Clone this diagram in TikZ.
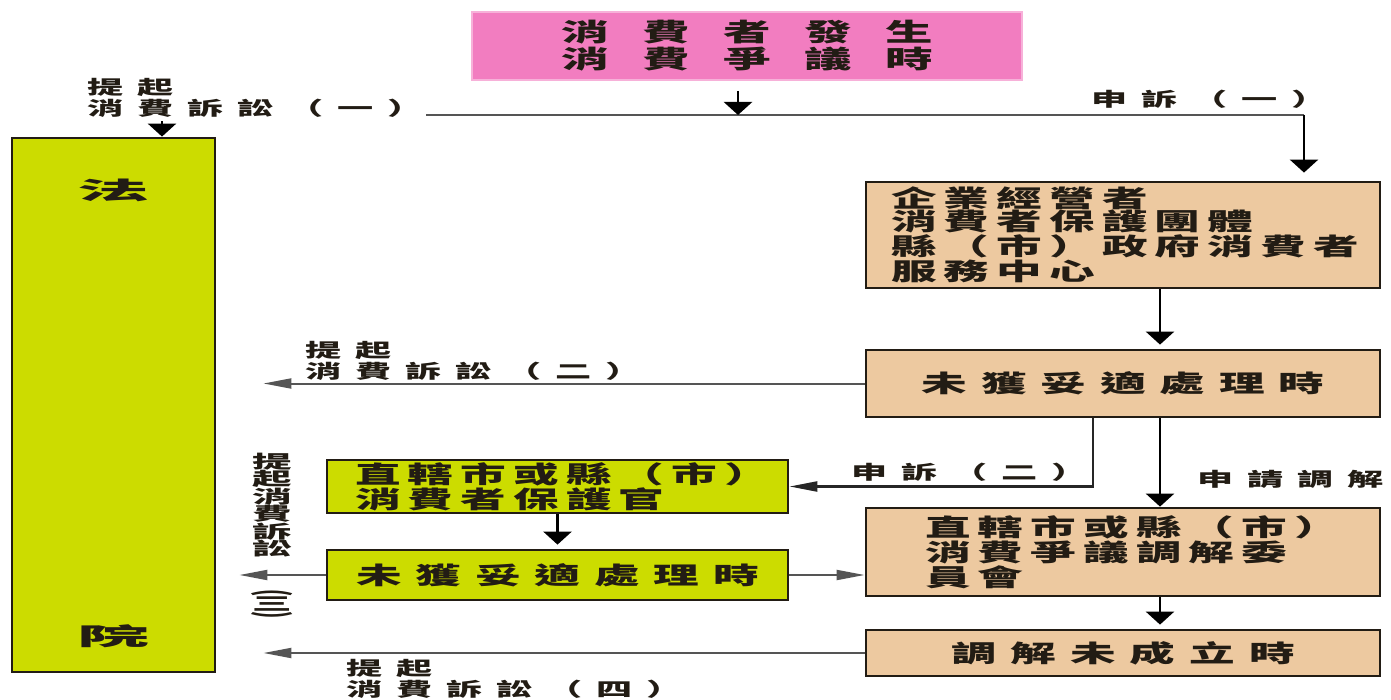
\documentclass[tikz,border=0pt]{standalone}
\usepackage{fontspec}
\usepackage{graphicx}
\usepackage{xcolor}
\usepackage{tikz}
\usetikzlibrary{arrows.meta,positioning,calc}
\newfontfamily\eventcjk[FakeStretch=1.9,LetterSpace=134]{Noto Sans CJK TC}
\newfontfamily\boxcjk[FakeStretch=1.9,LetterSpace=30]{Noto Sans CJK TC}
\newfontfamily\linecjk[FakeStretch=1.9,LetterSpace=58]{Noto Sans CJK TC}
\newfontfamily\tagcjk[FakeStretch=1.9,LetterSpace=73]{Noto Sans CJK TC}
\newfontfamily\courtcjk[FakeStretch=3]{Noto Sans CJK TC}
\newfontfamily\vertcjk[FakeStretch=2.2]{Noto Sans CJK TC}
\newfontfamily\plaincjk{Noto Sans CJK TC}
\definecolor{disputepink}{HTML}{F27DC0}
\definecolor{courtgreen}{HTML}{CCDC00}
\definecolor{agencytan}{HTML}{EDC9A0}
\definecolor{ink}{HTML}{221C14}
\definecolor{wire}{HTML}{555555}
\tikzset{
  panel/.style={
    rectangle,
    draw=ink,
    line width=1.4pt,
    inner sep=0pt,
    text=ink
  },
  event/.style={panel, draw=disputepink!60!white, line width=0.8pt,
    fill=disputepink, minimum width=275pt, minimum height=34pt,
    align=center, font=\eventcjk\bfseries\fontsize{12.5}{13.5}\selectfont},
  court/.style={panel, fill=courtgreen, minimum width=101.5pt,
    minimum height=267pt, align=center,
    font=\courtcjk\bfseries\fontsize{12}{12}\selectfont},
  agency/.style={panel, fill=agencytan, align=left,
    font=\boxcjk\bfseries\fontsize{12}{11.5}\selectfont},
  agencyline/.style={panel, fill=agencytan, align=center,
    minimum width=257pt, font=\linecjk\bfseries\fontsize{12}{11.5}\selectfont},
  officer/.style={panel, fill=courtgreen, align=left,
    font=\boxcjk\bfseries\fontsize{12}{12.5}\selectfont},
  officerline/.style={panel, fill=courtgreen, align=center,
    minimum width=230.5pt, font=\linecjk\bfseries\fontsize{12}{11.5}\selectfont},
  tag/.style={
    align=left,
    inner sep=1.5pt,
    text=ink,
    font=\tagcjk\bfseries\fontsize{9.5}{10.5}\selectfont
  },
  vtag/.style={
    align=center,
    inner sep=0pt,
    text=ink,
    font=\vertcjk\bfseries\fontsize{9}{8.75}\selectfont
  },
  downflow/.style={
    -{Triangle[length=6.5pt,width=14pt]},
    draw=black,
    line width=1.3pt
  },
  sideflow/.style={
    -{Triangle[length=14pt,width=5pt]},
    draw=wire,
    line width=1pt
  },
  wireline/.style={draw=wire, line width=1pt}
}
\begin{document}
\begin{tikzpicture}[x=0.5pt, y=-0.5pt]
\useasboundingbox (0,0) rectangle (1391,700);

% ---- boxes ----
\node[event] (dispute) at (747,46) {消費者發生\\消費爭議時};
\node[court] (court) at (113.5,405) {\mbox{}\\[6.5pt]法\\[211pt]院};

\node[agency, text width=232pt, inner xsep=12.5pt, minimum height=53pt]
  (agencies) at (1123,235) {企業經營者\\消費者保護團體\\縣（市）政府消費者\\服務中心};
\node[agencyline, minimum height=33.5pt] (unresolved) at (1123,383.5) {未獲妥適處理時};
\node[agency, text width=198pt, inner xsep=29.5pt, minimum height=44pt]
  (mediation) at (1123,552) {直轄市或縣（市）\\消費爭議調解委\\員會};
\node[agencyline, minimum height=23pt] (failed) at (1123,653) {調解未成立時};

\node[officer, text width=202.5pt, inner xsep=14pt, minimum height=26.5pt]
  (officer) at (557.5,486.5) {直轄市或縣（市）\\消費者保護官};
\node[officerline, minimum height=25pt] (officerfail) at (557.5,575) {未獲妥適處理時};

% ---- junctions ----
\coordinate (split) at (738,115);
\coordinate (leftdrop) at (162,115);
\coordinate (rightdrop) at (1304,115);
\coordinate (spine) at (1160,0);
\coordinate (appeal) at (1093,0);

% ---- flow ----
\draw[wireline] (leftdrop) -- (rightdrop);
\draw[downflow] ($(dispute.south -| split)+(0,10)$) -- (split);
\draw[downflow] (leftdrop) -- (court.north -| leftdrop);
\draw[downflow, shorten >=4pt] (rightdrop) -- (agencies.north -| rightdrop);
\draw[downflow, shorten >=2pt] (agencies.south -| spine) -- (unresolved.north -| spine);
\draw[sideflow] (unresolved.west) -- ($(court.east |- unresolved.west)+(47,0)$);
\draw[sideflow, draw=black!85, line width=1.2pt] (unresolved.south -| appeal) |- (officer.east);
\draw[downflow] (unresolved.south -| spine) -- (mediation.north -| spine);
\draw[downflow, shorten >=2pt] (officer.south) -- (officerfail.north);
\draw[sideflow] (officerfail.west) -- ($(court.east |- officerfail.west)+(23,0)$);
\draw[sideflow] (officerfail.east) -- (officerfail.east -| mediation.west);
\draw[downflow, shorten >=2pt] (mediation.south -| spine) -- (failed.north -| spine);
\draw[sideflow] (failed.west) -- ($(court.east |- failed.west)+(47,0)$);

% ---- labels ----
\node[tag, fill=white, anchor=south west] (sue1) at (84,121) {提起\\消費訴訟（一）};
\node[tag, anchor=south west] (complaint1) at (1088,112) {申訴（一）};
\node[tag, anchor=south west] (sue2) at (302,384) {提起\\消費訴訟（二）};
\node[tag, anchor=west] (complaint2) at (848,472) {申訴（二）};
\node[tag, anchor=west] (apply) at (1194,479) {申請調解};
\node[vtag] (sue3) at (272,505) {提\\起\\消\\費\\訴\\訟};
% the numeral is set upright between turned brackets
\node[vtag] (sue3num) at (272,604)
  {\scalebox{2.2}[1]{\rotatebox{-90}{\plaincjk\bfseries\fontsize{9}{9}\selectfont
   (\raisebox{-0.18em}{\rotatebox{90}{三}})}}};
\node[tag, anchor=north west] (sue4) at (343,656) {提起\\消費訴訟（四）};

\end{tikzpicture}
\end{document}
